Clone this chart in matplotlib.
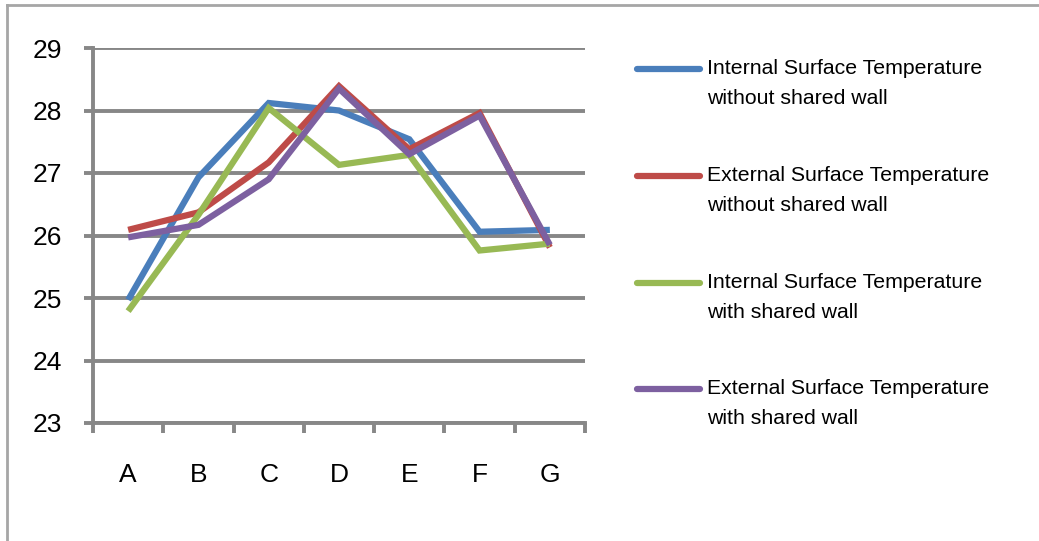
import matplotlib
matplotlib.use("Agg")
import matplotlib.pyplot as plt
from matplotlib.lines import Line2D

plt.rcParams['font.family'] = ['Liberation Sans Narrow', 'Liberation Sans', 'DejaVu Sans']

categories = ['A', 'B', 'C', 'D', 'E', 'F', 'G']
internal_without = [24.97, 26.93, 28.12, 28.0, 27.54, 26.06, 26.09]
external_without = [26.09, 26.37, 27.17, 28.39, 27.38, 27.96, 25.81]
internal_with = [24.79, 26.33, 28.04, 27.13, 27.29, 25.76, 25.87]
external_with = [25.97, 26.17, 26.90, 28.35, 27.30, 27.92, 25.85]

series_labels = [
    "Internal Surface Temperature\nwithout shared wall",
    "External Surface Temperature\nwithout shared wall",
    "Internal Surface Temperature\nwith shared wall",
    "External Surface Temperature\nwith shared wall",
]
series_values = [internal_without, external_without, internal_with, external_with]
series_colors = ['#4A7EBB', '#BE4B48', '#98B954', '#7D60A0']
y_ticks = [23, 24, 25, 26, 27, 28, 29]

W, H = 1039, 541
fig = plt.figure(figsize=(W / 100, H / 100), dpi=100)
ax = fig.add_axes([93 / W, 1 - 423 / H, (585 - 93) / W, (423 - 48) / H])

grid_color = '#878787'
x = list(range(len(categories)))
for vals, col in zip(series_values, series_colors):
    ax.plot(x, vals, color=col, lw=4.5, solid_joinstyle='miter', solid_capstyle='butt',
            zorder=3)

ax.set_xlim(-0.5, len(categories) - 0.5)
ax.set_ylim(23, 29)
ax.set_yticks(y_ticks)
ax.set_yticklabels([str(v) for v in y_ticks])
ax.yaxis.grid(True, color=grid_color, lw=2.8)
ax.set_axisbelow(True)

ax.set_xticks(x)
ax.set_xticklabels(categories)
ax.set_xticks([i - 0.5 for i in range(len(categories) + 1)], minor=True)
ax.tick_params(axis='x', which='major', length=0, pad=29, labelsize=19)
ax.tick_params(axis='x', which='minor', length=7, width=2.8, color=grid_color, direction='out')
ax.tick_params(axis='y', length=6.5, width=2.8, color=grid_color, pad=16, labelsize=19)

for side in ['top', 'right']:
    ax.spines[side].set_visible(False)
for side in ['left', 'bottom']:
    ax.spines[side].set_color(grid_color)
    ax.spines[side].set_linewidth(2.8)

# Legend drawn as line samples with two-line labels
legend_rows = [69, 176, 283, 389]
for lab, col, ypix in zip(series_labels, series_colors, legend_rows):
    yf = 1 - ypix / H
    fig.add_artist(Line2D([637 / W, 700 / W], [yf, yf], color=col, lw=4.5,
                          solid_capstyle='round', transform=fig.transFigure))
    fig.text(707 / W, 1 - (ypix - 10) / H, lab, fontsize=15.3, va='top', ha='left',
             linespacing=1.75, transform=fig.transFigure)

# Outer frame
frame_color = '#a6a6a6'
fig.add_artist(Line2D([7 / W, 1.0], [1 - 5 / H, 1 - 5 / H], color=frame_color, lw=2,
                      transform=fig.transFigure))
fig.add_artist(Line2D([7 / W, 7 / W], [0, 1 - 5 / H], color=frame_color, lw=2,
                      transform=fig.transFigure))

fig.savefig('out.png', dpi=100, facecolor='white')
